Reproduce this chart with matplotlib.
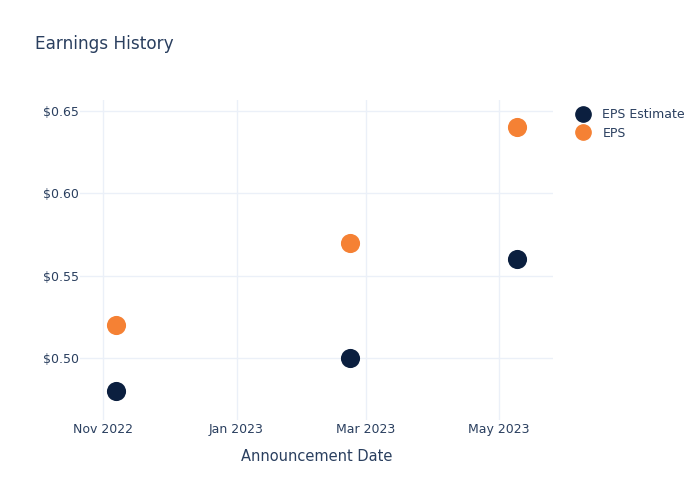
import matplotlib
matplotlib.use("Agg")
import matplotlib.pyplot as plt
import matplotlib.dates as mdates
import numpy as np
from matplotlib.lines import Line2D
import datetime as dt

dates = ["2022-11-07", "2023-02-22", "2023-05-09"]
eps_estimate = [0.48, 0.50, 0.56]
eps_actual = [0.52, 0.57, 0.64]
series_names = ["EPS Estimate", "EPS"]
tick_dates = ["2022-11-01", "2023-01-01", "2023-03-01", "2023-05-01"]
tick_labels = ["Nov 2022", "Jan 2023", "Mar 2023", "May 2023"]
y_ticks = [0.50, 0.55, 0.60, 0.65]

navy = "#0B1F3F"
orange = "#F58134"
txt = "#2a3f5f"
grid = "#EBF0F8"

x = [dt.datetime.fromisoformat(d) for d in dates]

fig = plt.figure(figsize=(7, 5), dpi=100)
ax = fig.add_axes([80/700, 80/500, (553-80)/700, (420-100)/500])

ax.scatter(x, eps_estimate, s=190, color=navy, zorder=3, linewidths=0)
ax.scatter(x, eps_actual, s=190, color=orange, zorder=3, linewidths=0)

ax.set_xlim(dt.datetime(2022, 10, 21, 12), dt.datetime(2023, 5, 25, 14))
ax.set_ylim(0.4623, 0.6567)

ax.set_xticks([dt.datetime.fromisoformat(d) for d in tick_dates])
ax.set_xticklabels(tick_labels)
ax.set_yticks(y_ticks)
ax.set_yticklabels([f"${v:.2f}" for v in y_ticks])

for s in ax.spines.values():
    s.set_visible(False)
ax.grid(True, color=grid, linewidth=1)
ax.set_axisbelow(True)
ax.tick_params(axis="both", length=0, labelsize=9, labelcolor=txt)
ax.tick_params(axis="x", pad=2)
ax.tick_params(axis="y", pad=1)

ax.set_xlabel("Announcement Date", fontsize=10.5, color=txt, labelpad=9.5)

fig.text(35/700, 1 - 44/500, "Earnings History", fontsize=12.2, color=txt,
         ha="left", va="center")

handles = [Line2D([], [], marker="o", linestyle="", markersize=11, color=navy),
           Line2D([], [], marker="o", linestyle="", markersize=11, color=orange)]
leg = fig.legend(handles, series_names, loc="upper left",
                 bbox_to_anchor=(570/700, 1 - 103/500), frameon=False,
                 fontsize=9, labelcolor=txt, handletextpad=1.0,
                 labelspacing=0.45, handlelength=1.2, borderaxespad=0)

fig.savefig("out.png", dpi=100)
